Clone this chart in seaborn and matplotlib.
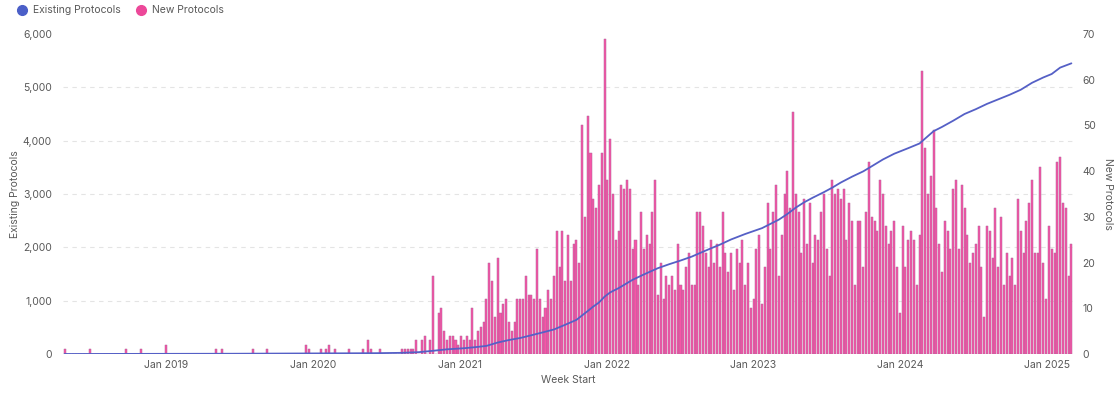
import matplotlib
matplotlib.use('Agg')
import matplotlib.pyplot as plt
import matplotlib.dates as mdates
import matplotlib.ticker as mticker
from matplotlib.lines import Line2D
import pandas as pd
import seaborn as sns

# weekly buckets, Monday starts
week_start = pd.date_range('2018-04-23', periods=359, freq='7D')

# new protocols per week (right axis)
new_protocols = [
    1, 0, 0, 0, 0, 0, 0, 0, 0, 1,
    0, 0, 0, 0, 0, 0, 0, 0, 0, 0,
    0, 0, 1, 0, 0, 0, 0, 1, 0, 0,
    0, 0, 0, 0, 0, 0, 2, 0, 0, 0,
    0, 0, 0, 0, 0, 0, 0, 0, 0, 0,
    0, 0, 0, 0, 1, 0, 1, 0, 0, 0,
    0, 0, 0, 0, 0, 0, 0, 1, 0, 0,
    0, 0, 1, 0, 0, 0, 0, 0, 0, 0,
    0, 0, 0, 0, 0, 0, 2, 1, 0, 0,
    0, 1, 0, 1, 2, 0, 1, 0, 0, 0,
    0, 1, 0, 0, 0, 0, 1, 0, 3, 1,
    0, 0, 1, 0, 0, 0, 0, 0, 0, 0,
    1, 1, 1, 1, 1, 3, 0, 3, 4, 0,
    3, 17, 0, 9, 10, 5, 3, 4, 4, 3,
    2, 4, 3, 4, 3, 10, 3, 5, 6, 7,
    12, 20, 16, 8, 21, 9, 11, 12, 7, 5,
    7, 12, 12, 12, 17, 13, 13, 12, 23, 12,
    8, 10, 14, 12, 17, 27, 19, 27, 16, 26,
    16, 24, 25, 20, 50, 30, 52, 44, 34, 32,
    37, 44, 69, 38, 47, 35, 25, 27, 37, 36,
    38, 36, 23, 25, 15, 31, 23, 26, 24, 31,
    38, 13, 20, 12, 17, 15, 17, 14, 24, 15,
    14, 19, 22, 15, 15, 31, 31, 28, 22, 19,
    25, 20, 24, 19, 31, 22, 18, 22, 14, 23,
    20, 25, 15, 20, 10, 12, 23, 26, 11, 19,
    33, 23, 31, 37, 17, 26, 35, 40, 32, 53,
    35, 31, 22, 34, 24, 33, 20, 26, 25, 31,
    35, 23, 17, 38, 35, 36, 34, 36, 25, 33,
    29, 15, 29, 29, 19, 31, 42, 30, 29, 27,
    38, 35, 28, 24, 27, 29, 19, 9, 28, 19,
    25, 27, 25, 15, 26, 62, 45, 35, 39, 49,
    32, 24, 18, 29, 27, 23, 36, 38, 23, 37,
    32, 26, 20, 22, 24, 28, 19, 8, 28, 27,
    21, 32, 19, 30, 15, 22, 17, 21, 15, 34,
    27, 22, 29, 33, 38, 22, 22, 41, 20, 12,
    28, 23, 22, 42, 43, 33, 32, 17, 24,
]

# existing protocols (left axis), at these week numbers
line_weeks = [0, 60, 110, 120, 126, 131, 136, 142, 146, 150, 154, 158, 162,
              166, 170, 174, 178, 182, 186, 188, 190, 192, 194, 197, 202,
              206, 211, 215, 219, 223, 226, 230, 233, 237, 242, 248, 254,
              257, 260, 263, 266, 270, 273, 276, 280, 284, 287, 291, 295,
              300, 304, 306, 309, 312, 316, 320, 324, 328, 332, 336, 340,
              344, 348, 351, 354, 358]
existing_protocols = [0, 5, 15, 22, 35, 60, 88, 108, 128, 152, 215, 262, 300,
                      352, 405, 460, 548, 640, 805, 890, 965, 1075, 1155, 1235, 1392,
                      1492, 1610, 1684, 1752, 1826, 1895, 1985, 2050, 2148, 2250, 2360, 2520,
                      2625, 2745, 2845, 2930, 3035, 3120, 3215, 3325, 3425, 3520, 3648, 3755,
                      3860, 3947, 4040, 4178, 4258, 4375, 4500, 4590, 4690, 4775, 4860, 4955,
                      5085, 5185, 5250, 5370, 5450]

pink = '#f655a7'
pink_edge = '#b0649a'
blue = '#5560c6'
grey = '#595959'

sns.set_theme(style='white')
plt.rcParams['font.family'] = ['Inter', 'DejaVu Sans']

fig = plt.figure(figsize=(11.2, 3.93), dpi=100)
ax = fig.add_axes([63 / 1120, 1 - 354 / 393, (1073 - 63) / 1120, 320 / 393])
ax2 = ax.twinx()

x_bars = mdates.date2num(week_start)
sns.barplot(x=x_bars, y=new_protocols, native_scale=True, width=0.72,
            color=pink, saturation=1, edgecolor=pink_edge, linewidth=0.35,
            errorbar=None, ax=ax2)

x_line = mdates.date2num(week_start[line_weeks])
sns.lineplot(x=x_line, y=existing_protocols, color=blue, linewidth=1.3, ax=ax)

# line axis above bar axis
ax.set_zorder(ax2.get_zorder() + 1)
ax.patch.set_visible(False)

ax.set_ylim(0, 6000)
ax2.set_ylim(0, 70)
left_ticks = list(range(0, 7000, 1000))
ax.set_yticks(left_ticks)
ax2.set_yticks(range(0, 80, 10))
ax.yaxis.set_major_formatter(mticker.FuncFormatter(lambda v, p: f'{int(v):,}'))

# gridlines follow the left axis but sit behind the bars
ax.grid(False)
ax2.yaxis.set_minor_locator(mticker.FixedLocator([t * 70 / 6000 for t in left_ticks]))
ax2.set_axisbelow(True)
ax2.grid(axis='y', which='minor', color='#e4e4e4', linestyle=(0, (4, 4)), linewidth=0.8)
ax2.grid(axis='y', which='major', visible=False)
ax2.grid(axis='x', visible=False)

ax.set_xlim(x_bars[0] - 4, x_bars[-1] + 4)
ax.xaxis.set_major_locator(mdates.YearLocator(month=1, day=1))
ax.xaxis.set_major_formatter(mdates.DateFormatter('%b %Y'))

for a in (ax, ax2):
    for s in a.spines.values():
        s.set_visible(False)
    a.tick_params(which='both', length=0, labelsize=7.5, labelcolor=grey)
ax.tick_params(axis='y', pad=8)
ax2.tick_params(axis='y', pad=7)
ax.tick_params(axis='x', pad=4)

ax.set_xlabel('Week Start', fontsize=7.5, color=grey, labelpad=4)
ax.set_ylabel('Existing Protocols', fontsize=7.5, color=grey, labelpad=2)
ax2.set_ylabel('New Protocols', fontsize=7.5, color=grey, rotation=270, labelpad=12)

handles = [
    Line2D([], [], marker='o', linestyle='none', markersize=7, color='#4b5fc8'),
    Line2D([], [], marker='o', linestyle='none', markersize=7, color='#ec4899'),
]
fig.legend(handles, ['Existing Protocols', 'New Protocols'], loc='upper left',
           bbox_to_anchor=(0.002, 1.01), ncol=2, frameon=False, fontsize=7.5,
           handletextpad=0.1, columnspacing=0.9, labelcolor=grey)

fig.savefig('out.png', dpi=100)
